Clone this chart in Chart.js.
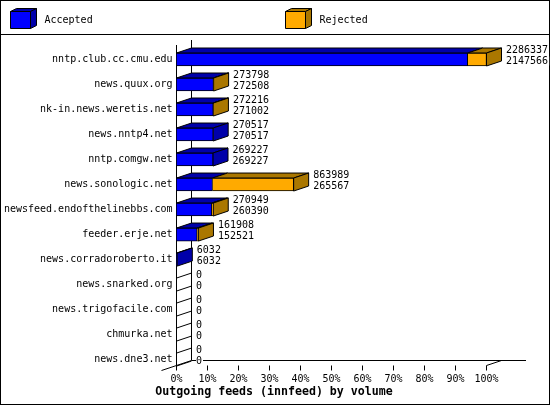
<!DOCTYPE html>
<html>
<head>
<meta charset="utf-8">
<style>
  html, body { margin: 0; padding: 0; background: #fff; }
  canvas { display: block; }
</style>
<script src="https://cdn.jsdelivr.net/npm/chart.js@4/dist/chart.umd.min.js"></script>
</head>
<body>
<canvas id="feeds" width="550" height="405"></canvas>
<script>
const hosts = ["nntp.club.cc.cmu.edu", "news.quux.org", "nk-in.news.weretis.net", "news.nntp4.net",
  "nntp.comgw.net", "news.sonologic.net", "newsfeed.endofthelinebbs.com", "feeder.erje.net",
  "news.corradoroberto.it", "news.snarked.org", "news.trigofacile.com", "chmurka.net", "news.dne3.net"];
const offered = [2286337, 273798, 272216, 270517, 269227, 863989, 270949, 161908, 6032, 0, 0, 0, 0];
const accepted = [2147566, 272508, 271002, 270517, 269227, 265567, 260390, 152521, 6032, 0, 0, 0, 0];

const BLUE = "#0000ff", BLUE_DK = "#0000aa", ORANGE = "#ffaa00", ORANGE_DK = "#aa7700";
const DX = 15, DY = 5;   // depth of the 3d look
const MONO = "'DejaVu Sans Mono', monospace";

// bars are drawn as % of the biggest feed
const peak = Math.max(...offered);
const acceptedPct = accepted.map(v => v / peak * 100);
const rejectedPct = offered.map((v, i) => (v - accepted[i]) / peak * 100);

function poly(ctx, pts, fill) {
  ctx.beginPath();
  pts.forEach((p, i) => i ? ctx.lineTo(p[0], p[1]) : ctx.moveTo(p[0], p[1]));
  ctx.closePath();
  if (fill) { ctx.fillStyle = fill; ctx.fill(); }
  ctx.stroke();
}

function line(ctx, x1, y1, x2, y2) {
  ctx.beginPath();
  ctx.moveTo(x1, y1);
  ctx.lineTo(x2, y2);
  ctx.stroke();
}

function box(ctx, x, y, w, h, dx, dy, front, dark) {
  poly(ctx, [[x, y], [x + w, y], [x + w + dx, y - dy], [x + dx, y - dy]], dark);
  poly(ctx, [[x + w, y], [x + w + dx, y - dy], [x + w + dx, y + h - dy], [x + w, y + h]], dark);
  poly(ctx, [[x, y], [x + w, y], [x + w, y + h], [x, y + h]], front);
}

// frame, legend band and the floor/walls
const framePlugin = {
  id: "frame",
  beforeDraw(chart) {
    // title is centred on the whole picture, not the padded area
    chart.titleBlock.left = 0;
    chart.titleBlock.right = 548;
  },
  beforeDatasetsDraw(chart) {
    const ctx = chart.ctx, sx = chart.scales.x;
    const left = sx.getPixelForValue(0), right = sx.getPixelForValue(100);
    ctx.save();
    ctx.strokeStyle = "#000";
    ctx.lineWidth = 1;
    ctx.strokeRect(0.5, 0.5, 549, 404);
    line(ctx, 0, 34.5, 550, 34.5);

    const names = chart.data.datasets;
    box(ctx, 10.5, 11.5, 20, 17, 6, 3, BLUE, BLUE_DK);
    box(ctx, 285.5, 11.5, 20, 17, 6, 3, ORANGE, ORANGE_DK);
    ctx.fillStyle = "#000";
    ctx.font = "10px " + MONO;
    ctx.textBaseline = "middle";
    ctx.fillText(names[0].label, 44.5, 20);
    ctx.fillText(names[1].label, 319.5, 20);

    line(ctx, left, 45, left, 366);
    line(ctx, left + DX, 40, left + DX, 360.5);
    line(ctx, left - DX, 370.5, left + DX, 360.5);
    line(ctx, left + DX, 360.5, 526, 360.5);
    line(ctx, right, 365.5, right + DX, 360.5);
    sx.ticks.forEach(t => {
      const x = sx.getPixelForValue(t.value);
      line(ctx, x, 365.5, x, 370.5);
    });

    // top and side faces of every bar
    const a = chart.getDatasetMeta(0).data, r = chart.getDatasetMeta(1).data;
    a.forEach((bar, i) => {
      const top = bar.y - bar.height / 2, bottom = bar.y + bar.height / 2;
      const x0 = left, x1 = bar.x, x2 = r[i].x;
      if (offered[i] === 0) {
        // empty row: just the two edges on the wall
        line(ctx, x0, top, x0 + DX, top - DY);
        line(ctx, x0, bottom, x0 + DX, bottom - DY);
        return;
      }
      poly(ctx, [[x0, top], [x1, top], [x1 + DX, top - DY], [x0 + DX, top - DY]], BLUE_DK);
      if (x2 > x1) poly(ctx, [[x1, top], [x2, top], [x2 + DX, top - DY], [x1 + DX, top - DY]], ORANGE_DK);
      poly(ctx, [[x2, top], [x2 + DX, top - DY], [x2 + DX, bottom - DY], [x2, bottom]],
        rejectedPct[i] > 0 ? ORANGE_DK : BLUE_DK);
    });
    ctx.restore();
  },
  afterDatasetsDraw(chart) {
    const ctx = chart.ctx;
    const a = chart.getDatasetMeta(0).data, r = chart.getDatasetMeta(1).data;
    ctx.save();
    ctx.font = "10px " + MONO;
    ctx.textBaseline = "middle";
    a.forEach((bar, i) => {
      const x = r[i].x + DX + 4.5;
      const low = String(accepted[i]);
      ctx.fillStyle = "#fff";
      ctx.fillRect(x, bar.y - 3, ctx.measureText(low).width + 1, 9);
      ctx.fillStyle = "#000";
      ctx.fillText(String(offered[i]), x, bar.y - 9);
      ctx.fillText(low, x, bar.y + 2);
    });
    ctx.restore();
  }
};

new Chart(document.getElementById("feeds"), {
  type: "bar",
  data: {
    labels: hosts,
    datasets: [
      { label: "Accepted", data: acceptedPct, backgroundColor: BLUE, borderColor: "#000", borderWidth: 1, barThickness: 13 },
      { label: "Rejected", data: rejectedPct, backgroundColor: ORANGE, borderColor: "#000", borderWidth: 1, barThickness: 13 }
    ]
  },
  options: {
    indexAxis: "y",
    responsive: false,
    animation: false,
    devicePixelRatio: 1,
    layout: { padding: { top: 47, right: 63.5, left: 0, bottom: 0 } },
    plugins: {
      legend: { display: false },
      tooltip: { enabled: false },
      title: {
        display: true,
        position: "bottom",
        text: "Outgoing feeds (innfeed) by volume",
        color: "#000",
        font: { family: MONO, size: 11.6, weight: "bold" },
        padding: { top: 0, bottom: 6 }
      }
    },
    scales: {
      x: {
        stacked: true,
        min: 0,
        max: 100,
        grid: { display: false, drawTicks: false },
        border: { display: false },
        afterFit(scale) { scale.height = 13; },
        ticks: {
          stepSize: 10,
          autoSkip: false,
          maxRotation: 0,
          padding: 1,
          color: "#000",
          font: { family: MONO, size: 10 },
          callback: v => v + "%"
        }
      },
      y: {
        stacked: true,
        grid: { display: false, drawTicks: false },
        border: { display: false },
        afterFit(scale) { scale.width = 176.5; },
        ticks: {
          autoSkip: false,
          padding: 4,
          color: "#000",
          font: { family: MONO, size: 10 }
        }
      }
    }
  },
  plugins: [framePlugin]
});
</script>
</body>
</html>
